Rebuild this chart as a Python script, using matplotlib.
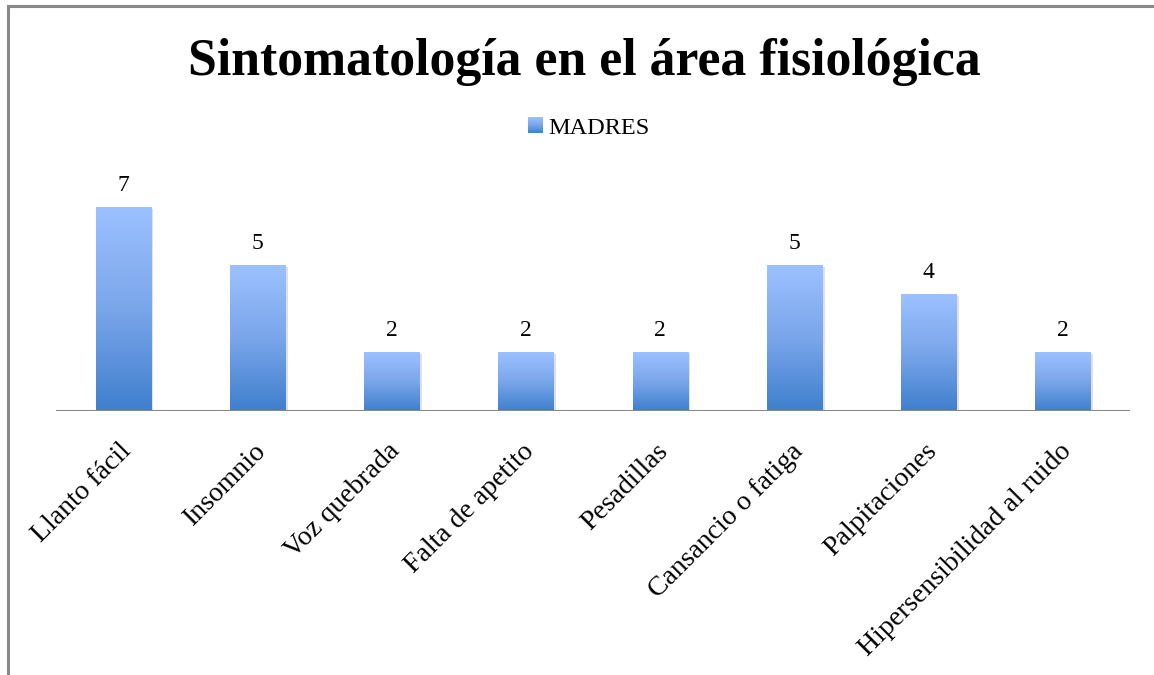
import numpy as np
import matplotlib
matplotlib.use("Agg")
import matplotlib.pyplot as plt
from matplotlib.colors import LinearSegmentedColormap
from matplotlib.patches import Rectangle

categories = ["Llanto fácil", "Insomnio", "Voz quebrada", "Falta de apetito",
              "Pesadillas", "Cansancio o fatiga", "Palpitaciones",
              "Hipersensibilidad al ruido"]
madres = [7, 5, 2, 2, 2, 5, 4, 2]
series_name = "MADRES"
title = "Sintomatología en el área fisiológica"

W, H = 1154, 675
plt.rcParams['font.family'] = ['Liberation Serif', 'DejaVu Serif']
fig = plt.figure(figsize=(W / 100, H / 100), dpi=100)

cmap = LinearSegmentedColormap.from_list("grad", ["#3f7fcd", "#7aa6ea", "#9cc1ff"])
grad = np.linspace(0, 1, 256).reshape(-1, 1)

# chart border (cropped at right and bottom)
fig.add_artist(Rectangle((8 / W, -0.1), 2.0, (H - 6) / H + 0.1, transform=fig.transFigure,
                         fill=False, edgecolor="#888888", linewidth=2.2))

ax = fig.add_axes([56 / W, (H - 411) / H, (1130 - 56) / W, (411 - 178) / H])
n = len(categories)
bw = 0.41
x = np.arange(n)
for xi, v in zip(x, madres):
    # soft shadow
    ax.add_patch(Rectangle((xi - bw / 2 + 0.02, -0.06), bw, v, facecolor="#000000",
                           alpha=0.12, edgecolor="none", zorder=1))
    ax.imshow(grad, cmap=cmap, origin="lower", aspect="auto",
              extent=[xi - bw / 2, xi + bw / 2, 0, v], zorder=2)
    ax.text(xi, v + 0.75, str(v), ha="center", va="center", fontsize=17, color="#000000")

ax.set_xlim(-0.5, n - 0.5)
ax.set_ylim(0, 8)
for s in ax.spines.values():
    s.set_visible(False)
ax.set_yticks([])
ax.set_xticks(x)
ax.set_xticklabels([])
ax.tick_params(axis="x", length=0)
ax.axhline(0, color="#888888", linewidth=2.2, zorder=3)

for xi, lab in zip(x, categories):
    ax.annotate(lab, xy=(xi, 0), xycoords="data", xytext=(-3, -20), textcoords="offset points",
                rotation=45, ha="right", va="top", rotation_mode="anchor", fontsize=20)

fig.text(584 / W, 1 - 62 / H, title, ha="center", va="center", fontsize=37.3,
         fontweight="bold")

lax = fig.add_axes([528 / W, 1 - 133 / H, 15 / W, 16 / H])
lax.imshow(grad, cmap=cmap, origin="lower", aspect="auto")
lax.axis("off")
fig.text(548 / W, 1 - 129 / H, series_name, ha="left", va="center", fontsize=17.5)

fig.savefig("out.png", dpi=100)
